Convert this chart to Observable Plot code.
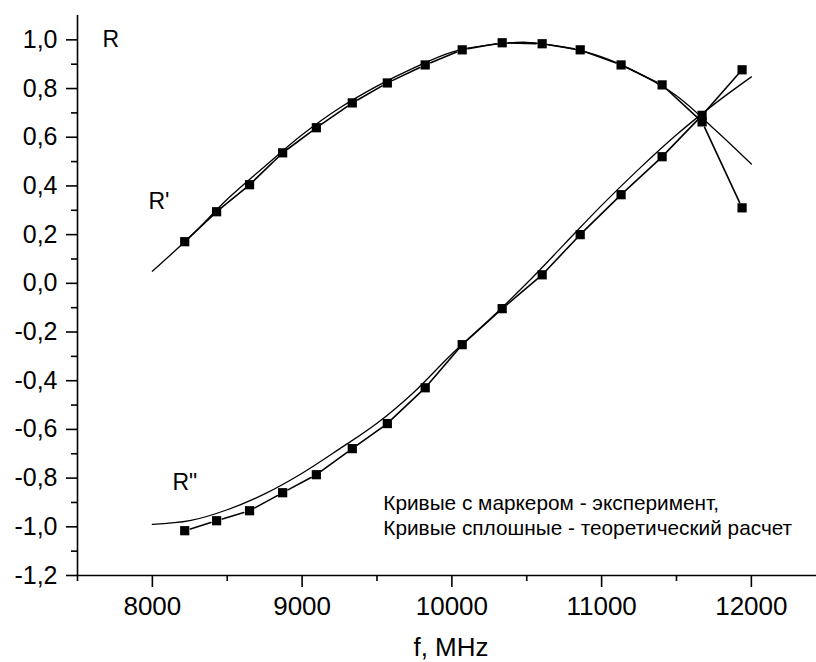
<!DOCTYPE html>
<html>
<head>
<meta charset="utf-8">
<script src="https://cdn.jsdelivr.net/npm/d3@7"></script>
<script src="https://cdn.jsdelivr.net/npm/@observablehq/plot@0.6"></script>
<style>
  html, body { margin: 0; padding: 0; background: #fff; }
  svg { display: block; }
</style>
</head>
<body>
<div id="chart"></div>
<script>
// Experimental points (markers)
const fExp  = [8216, 8429, 8649, 8870, 9095, 9335, 9569, 9822, 10069, 10336, 10603, 10857, 11130, 11404, 11671, 11938];
const R1exp = [0.171, 0.294, 0.405, 0.536, 0.639, 0.741, 0.823, 0.897, 0.959, 0.988, 0.984, 0.959, 0.897, 0.815, 0.663, 0.310];
const R2exp = [-1.016, -0.975, -0.934, -0.860, -0.786, -0.679, -0.576, -0.429, -0.252, -0.104, 0.035, 0.200, 0.364, 0.520, 0.690, 0.877];

// Theoretical curves (solid lines)
const fTh  = [8000, 8250, 8500, 8750, 9000, 9250, 9500, 9750, 10000, 10250, 10500, 10750, 11000, 11250, 11500, 11750, 12000];
const R1th = [0.05, 0.19, 0.345, 0.48, 0.61, 0.72, 0.81, 0.886, 0.95, 0.979, 0.99, 0.97, 0.93, 0.862, 0.77, 0.635, 0.49];
const R2th = [-0.99, -0.975, -0.93, -0.865, -0.78, -0.68, -0.575, -0.445, -0.29, -0.15, 0.0, 0.16, 0.32, 0.47, 0.61, 0.735, 0.848];

// Axes ticks
const xMajor = [8000, 9000, 10000, 11000, 12000];
const xMinor = [7500, 8500, 9500, 10500, 11500];
const yMajor = [-1.2, -1.0, -0.8, -0.6, -0.4, -0.2, 0, 0.2, 0.4, 0.6, 0.8, 1.0];
const yMinor = [-1.1, -0.9, -0.7, -0.5, -0.3, -0.1, 0.1, 0.3, 0.5, 0.7, 0.9];

// Labels
const curveLabels = [
  {f: 7667, v: 1.0, text: "R"},
  {f: 7974, v: 0.335, text: "R'"},
  {f: 8134, v: -0.819, text: "R\""}
];
const noteLines = [
  {f: 9542, v: -0.905, text: "Кривые с маркером - эксперимент,"},
  {f: 9542, v: -1.005, text: "Кривые сплошные - теоретический расчет"}
];
const xTitle = "f, MHz";

// Build tables
const exp = [];
fExp.forEach((f, i) => { exp.push({f, v: R1exp[i], s: "R1"}); exp.push({f, v: R2exp[i], s: "R2"}); });
const th = [];
fTh.forEach((f, i) => { th.push({f, v: R1th[i], s: "R1"}); });
fTh.forEach((f, i) => { th.push({f, v: R2th[i], s: "R2"}); });
const segs = [];
for (const arr of [R1exp, R2exp]) {
  for (let i = 0; i < fExp.length - 1; i++) {
    segs.push({f1: fExp[i], v1: arr[i], f2: fExp[i + 1], v2: arr[i + 1]});
  }
}

const fmtY = d => d.toFixed(1).replace(".", ",");

const chart = Plot.plot({
  width: 816,
  height: 662,
  marginLeft: 77,
  marginRight: 0,
  marginTop: 15,
  marginBottom: 87,
  style: {fontFamily: "'Liberation Sans', Arial, sans-serif", background: "#fff", color: "#000"},
  x: {domain: [7500, 12435], axis: null},
  y: {domain: [-1.2, 1.1], axis: null},
  marks: [
    Plot.ruleX([7500], {stroke: "#000", strokeWidth: 1.6}),
    Plot.ruleY([-1.2], {stroke: "#000", strokeWidth: 1.6}),
    Plot.axisY(yMajor, {tickSize: 11, tickPadding: 9, tickFormat: fmtY, fontSize: 25, label: null, strokeWidth: 1.6}),
    Plot.axisY(yMinor, {tickSize: 6, tickFormat: () => "", label: null, strokeWidth: 1.6}),
    Plot.axisX(xMajor, {tickSize: 12, tickPadding: 9, tickFormat: d => String(d), fontSize: 26, label: null, strokeWidth: 1.6}),
    Plot.axisX(xMinor, {tickSize: 6, tickFormat: () => "", label: null, strokeWidth: 1.6}),
    // theory
    Plot.line(th, {x: "f", y: "v", z: "s", stroke: "#000", strokeWidth: 1.3, curve: "catmull-rom"}),
    // experiment connecting lines with gaps around markers
    Plot.arrow(segs, {x1: "f1", y1: "v1", x2: "f2", y2: "v2", headLength: 0, inset: 6, stroke: "#000", strokeWidth: 1.6}),
    Plot.dot(exp, {x: "f", y: "v", symbol: "square", r: 5.2, fill: "#000", stroke: null}),
    // labels
    Plot.text(curveLabels, {x: "f", y: "v", text: "text", textAnchor: "start", lineAnchor: "middle", fontSize: 23, fill: "#000"}),
    Plot.text(noteLines, {x: "f", y: "v", text: "text", textAnchor: "start", lineAnchor: "middle", fontSize: 20.8, fill: "#000"}),
    Plot.text([xTitle], {frameAnchor: "bottom", dy: 72, dx: 4, text: d => d, lineAnchor: "middle", fontSize: 26, fill: "#000"})
  ]
});
document.getElementById("chart").appendChild(chart);
</script>
</body>
</html>
